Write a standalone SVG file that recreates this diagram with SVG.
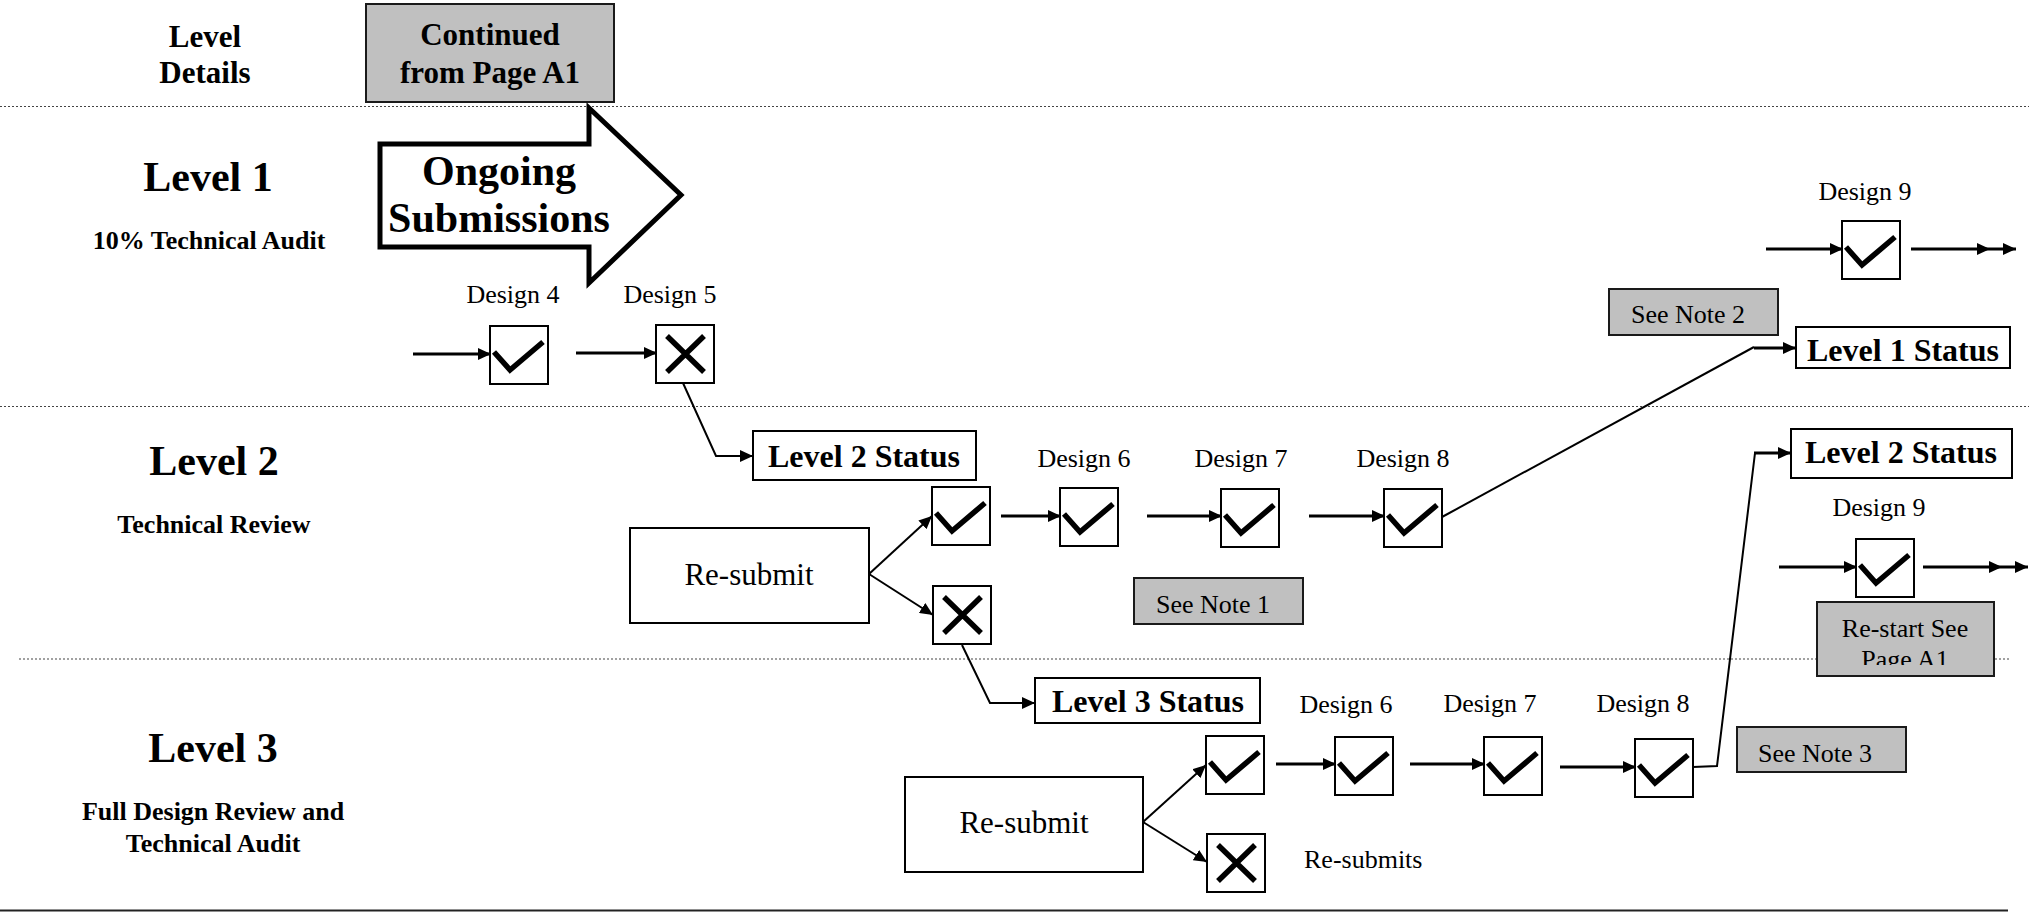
<svg xmlns="http://www.w3.org/2000/svg" xmlns:xlink="http://www.w3.org/1999/xlink" width="2029" height="912" viewBox="0 0 2029 912">
<style>
text{font-family:"Liberation Serif","Times New Roman",serif;fill:#000}
.b{font-weight:bold}
.c{text-anchor:middle}
.f26{font-size:26px}
.f31{font-size:31px}
.f32{font-size:32px}
.f42{font-size:42px}
.box{fill:#fff;stroke:#000;stroke-width:2}
.gray{fill:#c0c0c0;stroke:#1a1a1a;stroke-width:2}
.mark{fill:none;stroke:#000;stroke-width:5.5}
.conn{fill:none;stroke:#000;stroke-width:3}
.thin{stroke-width:2}
.div{stroke:#444;stroke-width:1.2;stroke-dasharray:2 2;fill:none}
</style>
<defs>
<marker id="ah" markerUnits="userSpaceOnUse" viewBox="0 0 13 12" refX="13" refY="6" markerWidth="13" markerHeight="12" orient="auto">
<path d="M0,0 L13,6 L0,12 z" fill="#000"/>
</marker>
<path id="chk" class="mark" d="M4,26 L20,44 L53,16"/>
<path id="xx" class="mark" d="M11,11 L48,47 M48,11 L11,47"/>
<clipPath id="clipRestart"><rect x="1817" y="602" width="177" height="63"/></clipPath>
</defs>

<g id="dividers">
<line class="div" x1="0" y1="106.5" x2="2029" y2="106.5"/>
<line class="div" x1="0" y1="406.5" x2="2029" y2="406.5"/>
<line class="div" x1="19" y1="659" x2="2010" y2="659"/>
<line x1="0" y1="910.5" x2="2008" y2="910.5" stroke="#222" stroke-width="2"/>
</g>

<g id="row-labels">
<text class="b c f31" x="205" y="47">Level</text>
<text class="b c f31" x="205" y="83">Details</text>
<text class="b c f42" x="208" y="191">Level 1</text>
<text class="b c f26" x="209" y="249">10% Technical Audit</text>
<text class="b c f42" x="214" y="475">Level 2</text>
<text class="b c f26" x="214" y="533">Technical Review</text>
<text class="b c f42" x="213" y="762">Level 3</text>
<text class="b c f26" x="213" y="820">Full Design Review and</text>
<text class="b c f26" x="213" y="852">Technical Audit</text>
</g>

<g id="continued">
<rect class="gray" x="366" y="4" width="248" height="98"/>
<text class="b c f31" x="490" y="45">Continued</text>
<text class="b c f31" x="490" y="83">from Page A1</text>
</g>

<g id="ongoing">
<polygon points="380,144 589,144 589,108 681,195 589,283 589,247 380,247" fill="#fff" stroke="#000" stroke-width="5" stroke-linejoin="miter"/>
<text class="b c f42" x="499" y="185">Ongoing</text>
<text class="b c f42" x="499" y="232">Submissions</text>
</g>

<g id="connectors">
<line class="conn" x1="413" y1="354" x2="491" y2="354" marker-end="url(#ah)"/>
<line class="conn" x1="576" y1="353" x2="657" y2="353" marker-end="url(#ah)"/>
<path class="conn thin" d="M683,383 L716,456 L753,456" marker-end="url(#ah)"/>
<line class="conn" x1="1766" y1="249" x2="1843" y2="249" marker-end="url(#ah)"/>
<line class="conn" x1="1911" y1="249" x2="1990" y2="249" marker-end="url(#ah)"/>
<line class="conn" x1="1990" y1="249" x2="2016" y2="249" marker-end="url(#ah)"/>
<line class="conn thin" x1="869" y1="574" x2="932" y2="516" marker-end="url(#ah)"/>
<line class="conn thin" x1="869" y1="574" x2="933" y2="615" marker-end="url(#ah)"/>
<line class="conn" x1="1001" y1="516" x2="1061" y2="516" marker-end="url(#ah)"/>
<line class="conn" x1="1147" y1="516" x2="1222" y2="516" marker-end="url(#ah)"/>
<line class="conn" x1="1309" y1="516" x2="1385" y2="516" marker-end="url(#ah)"/>
<path class="conn thin" d="M1442,517 L1754,347" />
<line class="conn" x1="1754" y1="348" x2="1796" y2="348" marker-end="url(#ah)"/>
<path class="conn thin" d="M962,645 L990,703 L1035,703" marker-end="url(#ah)"/>
<line class="conn" x1="1779" y1="567" x2="1857" y2="567" marker-end="url(#ah)"/>
<line class="conn" x1="1923" y1="567" x2="2002" y2="567" marker-end="url(#ah)"/>
<line class="conn" x1="2002" y1="567" x2="2028" y2="567" marker-end="url(#ah)"/>
<line class="conn thin" x1="1143" y1="822" x2="1206" y2="765" marker-end="url(#ah)"/>
<line class="conn thin" x1="1143" y1="822" x2="1207" y2="862" marker-end="url(#ah)"/>
<line class="conn" x1="1276" y1="764" x2="1336" y2="764" marker-end="url(#ah)"/>
<line class="conn" x1="1410" y1="764" x2="1485" y2="764" marker-end="url(#ah)"/>
<line class="conn" x1="1560" y1="767" x2="1636" y2="767" marker-end="url(#ah)"/>
<path class="conn thin" d="M1693,767 L1717,766 L1755,453"/>
<line class="conn" x1="1754" y1="453" x2="1791" y2="453" marker-end="url(#ah)"/>
</g>

<g id="design4">
<text class="c f26" x="513" y="303">Design 4</text>
<rect class="box" x="490" y="326" width="58" height="58"/>
<use xlink:href="#chk" href="#chk" transform="translate(490,326)"/>
</g>
<g id="design5">
<text class="c f26" x="670" y="303">Design 5</text>
<rect class="box" x="656" y="325" width="58" height="58"/>
<use xlink:href="#xx" href="#xx" transform="translate(656,325)"/>
</g>

<g id="l2status">
<rect class="box" x="753" y="431" width="223" height="49"/>
<text class="b c f32" x="864" y="467">Level 2 Status</text>
</g>
<g id="l2resubmit">
<rect class="box" x="630" y="528" width="239" height="95"/>
<text class="c f31" x="749" y="585">Re-submit</text>
</g>
<g id="l2pass">
<rect class="box" x="932" y="487" width="58" height="58"/>
<use xlink:href="#chk" href="#chk" transform="translate(932,487)"/>
</g>
<g id="l2fail">
<rect class="box" x="933" y="586" width="58" height="58"/>
<use xlink:href="#xx" href="#xx" transform="translate(933,586)"/>
</g>
<g id="l2design6">
<text class="c f26" x="1084" y="467">Design 6</text>
<rect class="box" x="1060" y="488" width="58" height="58"/>
<use xlink:href="#chk" href="#chk" transform="translate(1060,488)"/>
</g>
<g id="l2design7">
<text class="c f26" x="1241" y="467">Design 7</text>
<rect class="box" x="1221" y="489" width="58" height="58"/>
<use xlink:href="#chk" href="#chk" transform="translate(1221,489)"/>
</g>
<g id="l2design8">
<text class="c f26" x="1403" y="467">Design 8</text>
<rect class="box" x="1384" y="489" width="58" height="58"/>
<use xlink:href="#chk" href="#chk" transform="translate(1384,489)"/>
</g>
<g id="note1">
<rect class="gray" x="1134" y="578" width="169" height="46"/>
<text class="c f26" x="1213" y="613">See Note 1</text>
</g>
<g id="note2">
<rect class="gray" x="1609" y="289" width="169" height="46"/>
<text class="c f26" x="1688" y="323">See Note 2</text>
</g>
<g id="l1design9">
<text class="c f26" x="1865" y="200">Design 9</text>
<rect class="box" x="1842" y="221" width="58" height="58"/>
<use xlink:href="#chk" href="#chk" transform="translate(1842,221)"/>
</g>
<g id="l1status">
<rect class="box" x="1796" y="327" width="214" height="41"/>
<text class="b c f32" x="1903" y="361">Level 1 Status</text>
</g>
<g id="l2status-right">
<rect class="box" x="1791" y="429" width="221" height="49"/>
<text class="b c f32" x="1901" y="463">Level 2 Status</text>
</g>
<g id="l2design9">
<text class="c f26" x="1879" y="516">Design 9</text>
<rect class="box" x="1856" y="539" width="58" height="58"/>
<use xlink:href="#chk" href="#chk" transform="translate(1856,539)"/>
</g>
<g id="restart">
<rect class="gray" x="1817" y="602" width="177" height="74"/>
<g clip-path="url(#clipRestart)">
<text class="c f26" x="1905" y="637">Re-start See</text>
<text class="c f26" x="1905" y="668">Page A1</text>
</g>
</g>

<g id="l3status">
<rect class="box" x="1035" y="678" width="225" height="45"/>
<text class="b c f32" x="1148" y="712">Level 3 Status</text>
</g>
<g id="l3resubmit">
<rect class="box" x="905" y="777" width="238" height="95"/>
<text class="c f31" x="1024" y="833">Re-submit</text>
</g>
<g id="l3pass">
<rect class="box" x="1206" y="736" width="58" height="58"/>
<use xlink:href="#chk" href="#chk" transform="translate(1206,736)"/>
</g>
<g id="l3fail">
<rect class="box" x="1207" y="834" width="58" height="58"/>
<use xlink:href="#xx" href="#xx" transform="translate(1207,834)"/>
</g>
<g id="l3design6">
<text class="c f26" x="1346" y="713">Design 6</text>
<rect class="box" x="1335" y="737" width="58" height="58"/>
<use xlink:href="#chk" href="#chk" transform="translate(1335,737)"/>
</g>
<g id="l3design7">
<text class="c f26" x="1490" y="712">Design 7</text>
<rect class="box" x="1484" y="737" width="58" height="58"/>
<use xlink:href="#chk" href="#chk" transform="translate(1484,737)"/>
</g>
<g id="l3design8">
<text class="c f26" x="1643" y="712">Design 8</text>
<rect class="box" x="1635" y="739" width="58" height="58"/>
<use xlink:href="#chk" href="#chk" transform="translate(1635,739)"/>
</g>
<g id="note3">
<rect class="gray" x="1737" y="727" width="169" height="45"/>
<text class="c f26" x="1815" y="762">See Note 3</text>
</g>
<g id="resubmits">
<text class="f26" x="1304" y="868">Re-submits</text>
</g>
</svg>
